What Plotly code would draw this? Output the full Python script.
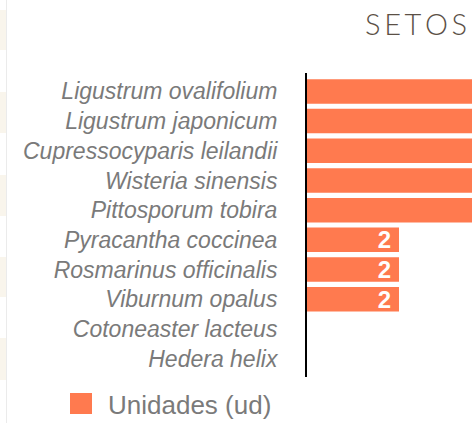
import plotly.graph_objects as go

categories = [
    "Ligustrum ovalifolium",
    "Ligustrum japonicum",
    "Cupressocyparis leilandii",
    "Wisteria sinensis",
    "Pittosporum tobira",
    "Pyracantha coccinea",
    "Rosmarinus officinalis",
    "Viburnum opalus",
    "Cotoneaster lacteus",
    "Hedera helix",
]
values = [7, 6, 5, 4, 4, 2, 2, 2, 0, 0]
series_name = "Unidades (ud)"
title_text = "SETOS"

W, H = 472, 423
L, R, T, B = 307, 0, 73, 46
PX_PER_UNIT = 46.0
X_MAX = (W - L - R) / PX_PER_UNIT
BAR_COLOR = "#ff7a4f"

# value labels: only those whose bar end lies inside the visible axis range
labels = [(str(v) + "\u2009") if 0 < v <= X_MAX else "" for v in values]

fig = go.Figure()
fig.add_trace(go.Bar(
    x=values,
    y=categories,
    orientation="h",
    name=series_name,
    marker=dict(color=BAR_COLOR, line=dict(width=0)),
    text=labels,
    textposition="inside",
    insidetextanchor="end",
    textangle=0,
    constraintext="none",
    textfont=dict(family="Liberation Sans", size=24, color="white", weight="bold"),
    hoverinfo="skip",
    showlegend=False,
))

def px2x(px):
    return (px - L) / (W - L - R)

def py2y(py):
    return (H - B - py) / (H - T - B)

shapes = []
for y0, y1 in [(10, 50), (92, 133), (175, 216), (257, 297), (338, 380)]:
    shapes.append(dict(type="rect", xref="paper", yref="paper",
                       x0=px2x(0), x1=px2x(6), y0=py2y(y1), y1=py2y(y0),
                       fillcolor="#f9f5ec", line=dict(width=0), layer="below"))
shapes.append(dict(type="line", xref="paper", yref="paper",
                   x0=px2x(6.5), x1=px2x(6.5), y0=py2y(423), y1=py2y(0),
                   line=dict(color="#ebebeb", width=1), layer="below"))
# legend swatch
shapes.append(dict(type="rect", xref="paper", yref="paper",
                   x0=px2x(70), x1=px2x(92), y0=py2y(414), y1=py2y(393),
                   fillcolor=BAR_COLOR, line=dict(width=0)))

annotations = [
    dict(text=series_name, xref="paper", yref="paper",
         x=px2x(106), y=py2y(405), xanchor="left", yanchor="middle",
         showarrow=False, font=dict(family="Liberation Sans", size=26, color="#7a7a7a")),
    dict(text="\u2009".join(title_text), xref="paper", yref="paper",
         x=px2x(469), y=py2y(23), xanchor="right", yanchor="middle",
         showarrow=False, font=dict(family="Lato", size=29, color="#5b5046", weight=300)),
]

fig.update_layout(
    width=W, height=H,
    margin=dict(l=L, r=R, t=T, b=B, pad=0),
    paper_bgcolor="white",
    plot_bgcolor="white",
    bargap=0.175,
    shapes=shapes,
    annotations=annotations,
    xaxis=dict(range=[0, X_MAX], visible=False, showgrid=False,
               zeroline=False, fixedrange=True),
    yaxis=dict(
        type="category",
        categoryorder="array",
        categoryarray=categories,
        range=[len(categories) - 1 + 0.62, -0.62],
        showline=True, linecolor="black", linewidth=2,
        showgrid=False, zeroline=False,
        ticks="outside", ticklen=23, tickcolor="rgba(0,0,0,0)",
        tickfont=dict(family="Liberation Sans", size=23, color="#7a7a7a", style="italic"),
        fixedrange=True,
    ),
)

fig.write_html(
    "out.html",
    config={"displayModeBar": False},
    post_script="document.body.style.margin='0';document.body.style.overflow='hidden';",
)
